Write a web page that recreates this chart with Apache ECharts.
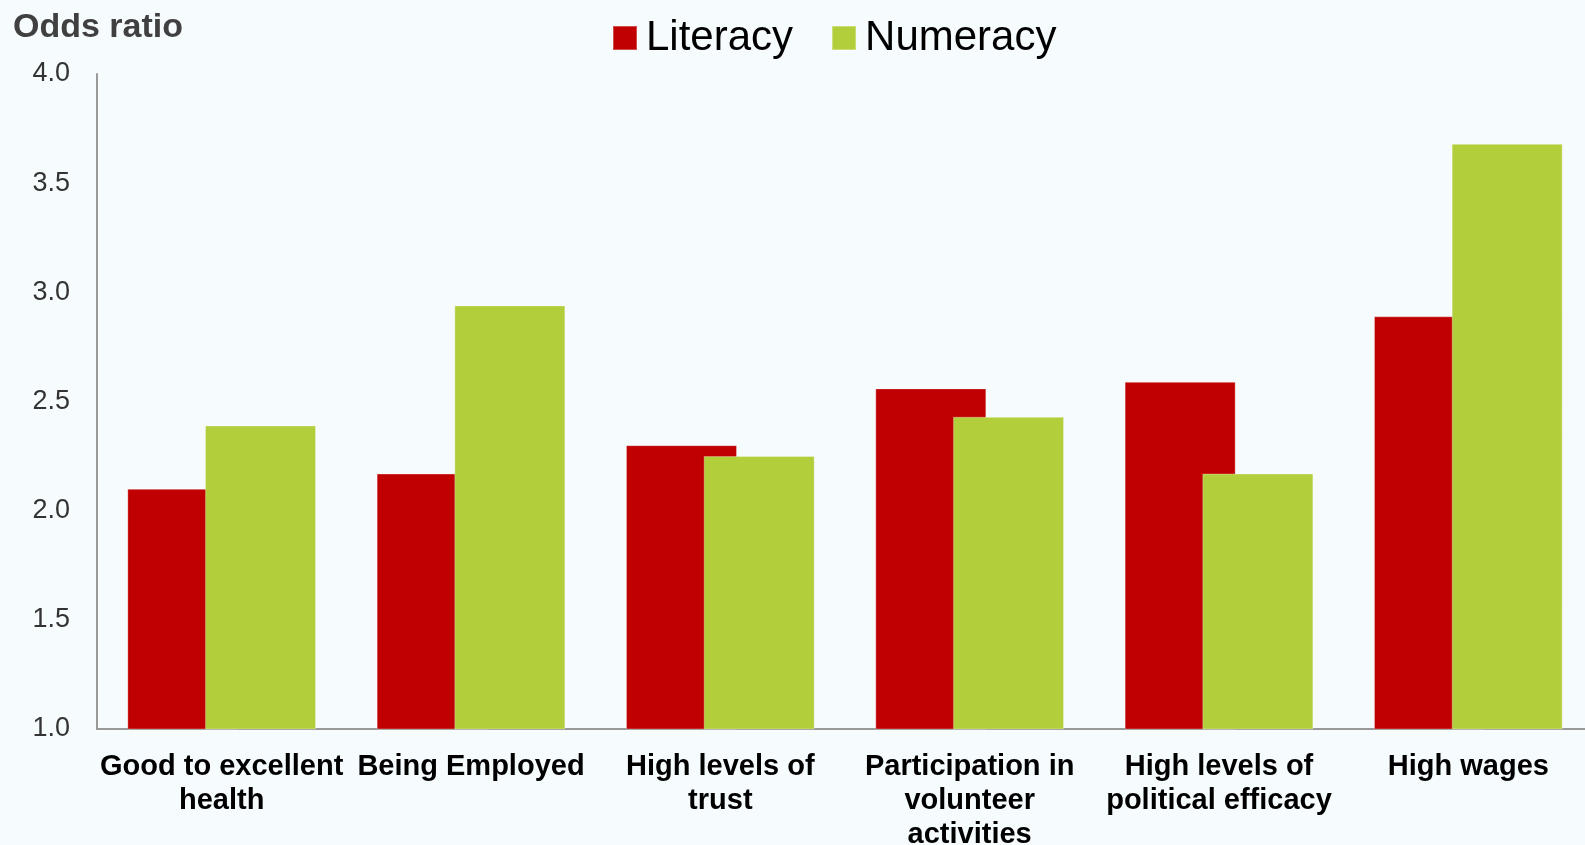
<!DOCTYPE html>
<html>
<head>
<meta charset="utf-8">
<script src="https://cdn.jsdelivr.net/npm/echarts@6/dist/echarts.min.js"></script>
<style>
html,body{margin:0;padding:0;background:#f6fbfe;}
#chart{width:1585px;height:845px;}
</style>
</head>
<body>
<div id="chart"></div>
<script>
const categories = [
  'Good to excellent\nhealth',
  'Being Employed',
  'High levels of\ntrust',
  'Participation in\nvolunteer\nactivities',
  'High levels of\npolitical efficacy',
  'High wages'
];
const literacy = [2.10, 2.17, 2.30, 2.56, 2.59, 2.89];
const numeracy = [2.39, 2.94, 2.25, 2.43, 2.17, 3.68];
const seriesNames = ['Literacy', 'Numeracy'];
const yTicks = { min: 1.0, max: 4.0, interval: 0.5 };

const FONT = "'Liberation Sans', Arial, sans-serif";
const chart = echarts.init(document.getElementById('chart'), null, { renderer: 'canvas' });
chart.setOption({
  backgroundColor: '#f6fbfe',
  animation: false,
  title: {
    text: 'Odds ratio',
    left: 8, top: 6,
    textStyle: { fontFamily: FONT, fontSize: 34, fontWeight: 'bold', color: '#404040' }
  },
  legend: {
    data: seriesNames,
    left: 612, top: 17,
    padding: 0,
    itemWidth: 24, itemHeight: 24, itemGap: 38,
    icon: 'rect',
    textStyle: { fontFamily: FONT, fontSize: 42, color: '#000', padding: [0, 0, 0, 4] }
  },
  grid: { left: 97, top: 74, width: 1496, height: 655, containLabel: false, outerBoundsMode: 'none' },
  xAxis: {
    type: 'category',
    data: categories,
    axisLine: { lineStyle: { color: '#999', width: 2 } },
    axisTick: { show: false },
    axisLabel: {
      interval: 0, margin: 21,
      fontFamily: FONT, fontSize: 29, fontWeight: 'bold', color: '#000', lineHeight: 34
    }
  },
  yAxis: {
    type: 'value',
    min: yTicks.min, max: yTicks.max, interval: yTicks.interval,
    axisLine: { show: true, lineStyle: { color: '#999', width: 2 } },
    axisTick: { show: false },
    splitLine: { show: false },
    axisLabel: {
      margin: 27, fontFamily: FONT, fontSize: 27, color: '#333',
      formatter: v => v.toFixed(1)
    }
  },
  series: [
    {
      name: seriesNames[0], type: 'bar', data: literacy,
      barWidth: 111, barGap: '-30%',
      itemStyle: { color: '#c00000', borderColor: 'rgba(255,255,255,0.3)', borderWidth: 1 }
    },
    {
      name: seriesNames[1], type: 'bar', data: numeracy,
      barWidth: 111, barGap: '-30%',
      itemStyle: { color: '#b3ce3b', borderColor: 'rgba(255,255,255,0.3)', borderWidth: 1 }
    }
  ]
});
</script>
</body>
</html>
